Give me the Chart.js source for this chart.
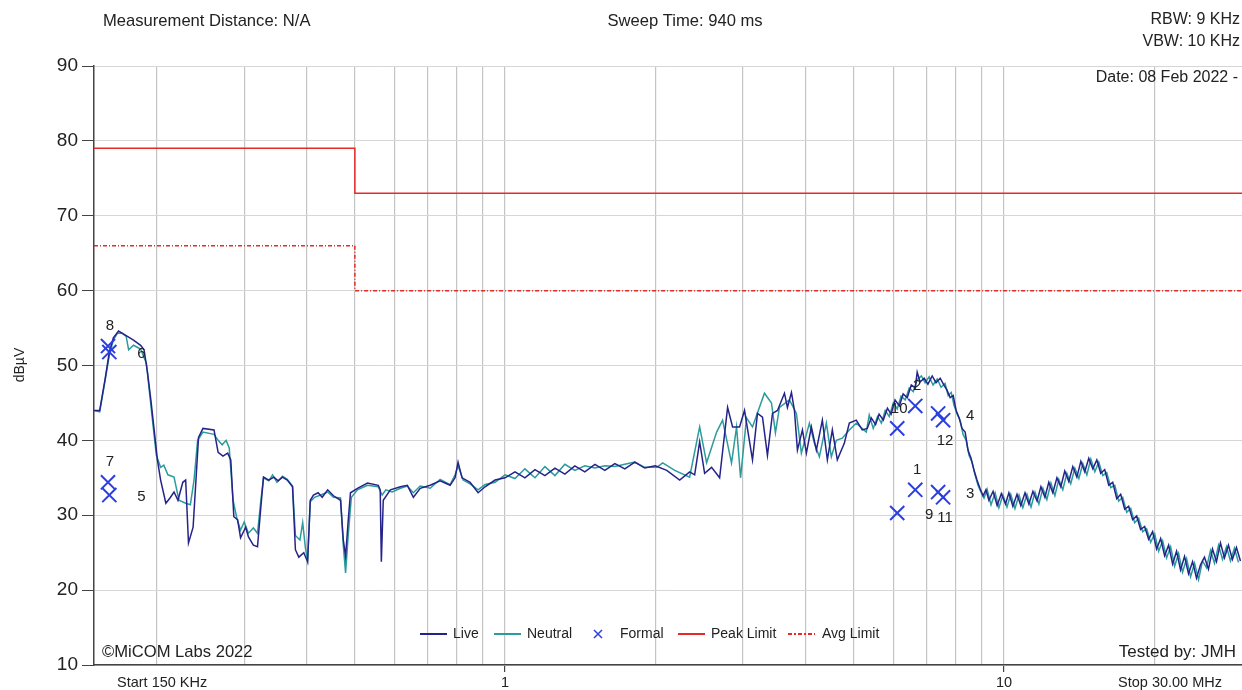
<!DOCTYPE html>
<html>
<head>
<meta charset="utf-8">
<script src="https://cdn.jsdelivr.net/npm/chart.js@4.4.1/dist/chart.umd.min.js"></script>
<style>
  html, body { margin: 0; padding: 0; background: #fff; }
  canvas { display: block; }
</style>
</head>
<body>
<canvas id="emiChart" width="1242" height="690"></canvas>
<script>
// Frequencies in MHz, levels in dBµV
const liveFreq = [0.150,0.154,0.158,0.161,0.164,0.168,0.171,0.176,0.180,0.186,0.189,0.192,0.195,0.198,0.201,0.204,0.209,0.213,0.217,0.221,
  0.226,0.229,0.232,0.237,0.243,0.248,0.261,0.266,0.272,0.278,0.282,0.286,0.291,0.295,0.302,0.306,0.313,0.319,0.324,0.328,
  0.336,0.344,0.351,0.358,0.366,0.375,0.380,0.386,0.395,0.402,0.407,0.413,0.422,0.430,0.441,0.453,0.468,0.474,0.479,0.485,
  0.490,0.506,0.530,0.557,0.562,0.565,0.570,0.589,0.617,0.637,0.655,0.676,
  0.708,0.741,0.776,0.794,0.805,0.820,0.851,0.883,0.912,0.955,
  1.000,1.047,1.096,1.148,1.202,1.259,1.318,1.380,1.445,1.514,1.585,1.660,1.738,1.820,1.905,2.000,
  2.109,2.239,2.344,2.399,2.455,2.512,2.594,2.692,2.793,2.858,2.951,3.020,3.133,3.206,3.281,3.357,3.436,3.516,3.631,3.681,
  3.750,3.802,3.855,3.945,4.018,4.111,4.207,4.325,4.426,4.529,4.634,4.786,4.898,5.058,5.200,5.321,
  5.42,5.53,5.62,5.73,5.84,5.94,6.05,6.17,6.28,6.40,6.52,6.64,6.70,6.79,6.92,7.04,7.18,7.31,7.45,7.59,
  7.69,7.80,7.91,8.02,8.13,8.24,8.36,8.47,8.59,8.71,8.83,8.95,9.08,9.20,9.33,9.51,9.69,9.88,10.07,10.23,
  10.42,10.62,10.81,11.02,11.22,11.43,11.65,11.86,12.08,12.30,12.53,12.77,13.00,13.24,13.49,13.74,14.00,14.26,14.52,14.79,
  15.07,15.35,15.63,15.92,16.22,16.52,16.83,17.14,17.46,17.78,18.11,18.45,18.79,19.14,19.50,19.86,20.23,20.61,20.99,21.38,
  21.78,22.18,22.59,23.01,23.44,23.88,24.32,24.77,25.23,25.70,26.18,26.67,27.16,27.67,28.18,28.70,29.24,29.79];
const liveLevel = [44.0,44.0,48.3,51.8,53.7,54.6,54.3,53.8,53.4,52.7,52.1,49.1,45.4,41.4,37.4,34.7,31.6,32.3,33.1,32.0,
  34.4,34.7,26.3,28.4,40.4,41.6,41.4,38.4,37.9,38.3,37.4,29.8,29.4,27.0,28.4,27.1,26.0,25.8,31.1,35.1,
  34.7,35.1,34.6,35.1,34.7,33.8,25.4,24.4,25.0,23.8,32.0,32.7,33.0,32.4,33.4,32.6,32.0,26.7,24.5,29.4,
  33.0,33.6,34.3,34.0,33.4,23.8,32.0,33.4,33.8,34.0,32.4,33.6,
  34.0,34.6,34.0,35.0,37.1,35.0,34.4,33.0,33.8,34.7,
  35.0,35.8,35.0,36.1,35.3,36.3,35.5,36.6,35.8,36.8,36.0,36.9,36.2,37.1,36.3,36.6,
  36.0,34.7,35.8,35.4,39.8,35.6,36.4,35.0,44.4,41.8,41.8,44.0,37.4,43.6,43.1,38.0,43.6,44.0,46.3,44.4,
  46.4,44.0,38.7,41.4,38.3,41.8,38.7,42.7,37.4,41.4,37.4,39.6,42.3,42.7,41.4,41.6,
  43.0,42.1,43.5,42.7,44.3,43.5,45.4,44.6,46.2,45.7,47.4,47.0,49.1,47.8,48.3,47.5,48.6,47.7,48.3,47.3,
  46.7,45.7,46.0,44.0,43.0,41.6,41.1,38.7,37.6,36.0,34.7,33.6,32.6,33.4,32.0,33.2,31.3,32.9,31.5,33.0,
  31.2,32.8,31.3,33.0,31.5,33.2,31.9,33.8,32.4,34.4,33.0,35.0,33.8,35.9,34.5,36.5,35.1,37.2,35.8,37.6,
  36.2,37.4,35.6,36.1,34.0,34.4,32.2,32.8,30.8,31.2,29.4,29.9,28.1,28.5,26.8,27.8,25.5,26.9,24.6,26.0,
  23.5,25.2,22.7,24.5,22.2,23.8,21.6,23.4,24.4,22.8,25.5,23.8,26.3,24.3,26.0,24.1,25.7,23.9];

const neutralFreq = [0.150,0.154,0.158,0.161,0.164,0.167,0.171,0.174,0.176,0.180,0.186,0.191,0.194,0.197,0.200,0.204,0.207,0.211,0.217,0.222,
  0.229,0.234,0.238,0.242,0.248,0.261,0.266,0.271,0.276,0.280,0.285,0.290,0.295,0.300,0.306,0.313,0.319,0.324,0.328,0.336,
  0.342,0.349,0.358,0.366,0.375,0.380,0.388,0.393,0.398,0.402,0.407,0.415,0.427,0.441,0.453,0.468,0.474,0.479,0.485,0.492,
  0.506,0.530,0.557,0.567,0.577,0.594,0.617,0.637,0.655,0.676,
  0.708,0.741,0.776,0.794,0.805,0.824,0.851,0.883,0.912,0.955,1.000,1.047,1.096,1.148,1.202,1.259,1.318,1.380,1.445,1.514,
  1.585,1.660,1.738,1.820,1.905,2.014,2.070,2.188,2.344,2.455,2.535,2.655,2.729,2.844,2.911,2.965,3.048,3.133,3.311,3.420,
  3.483,3.548,3.715,3.837,3.926,4.074,4.169,4.266,4.406,4.508,4.613,4.742,4.898,5.058,5.297,
  5.37,5.47,5.58,5.68,5.78,5.89,6.00,6.11,6.22,6.34,6.46,6.58,6.70,6.83,6.95,7.08,7.21,7.35,7.48,7.62,
  7.73,7.84,7.94,8.06,8.17,8.28,8.40,8.51,8.63,8.75,8.87,8.99,9.12,9.25,9.42,9.60,9.77,9.95,10.14,10.32,
  10.52,10.72,10.91,11.12,11.33,11.54,11.75,11.97,12.19,12.42,12.65,12.88,13.12,13.37,13.61,13.87,14.13,14.39,14.66,14.93,
  15.21,15.49,15.78,16.07,16.37,16.68,16.98,17.30,17.62,17.95,18.28,18.62,18.97,19.32,19.68,20.05,20.42,20.80,21.18,21.58,
  21.98,22.39,22.80,23.23,23.66,24.10,24.55,25.00,25.47,25.94,26.42,26.92,27.42,27.93,28.44,28.97,29.51];
const neutralLevel = [44.0,43.8,48.1,51.4,53.4,54.3,54.3,53.9,52.1,52.7,52.2,50.3,46.1,42.0,38.0,36.4,36.7,35.4,35.1,32.0,
  31.6,31.4,34.7,40.0,41.1,40.8,40.0,39.4,40.0,39.0,32.0,29.6,28.0,29.1,27.6,28.3,27.6,32.0,35.0,34.6,
  35.4,34.4,35.2,34.8,33.9,27.3,26.7,29.0,25.6,24.0,31.8,32.4,32.7,33.1,32.4,32.3,26.0,22.3,27.4,32.4,
  33.4,34.0,33.8,32.7,33.4,33.1,33.6,33.9,33.0,33.9,
  33.6,34.8,34.1,35.4,36.6,34.7,34.2,33.4,34.1,34.4,35.4,34.9,36.2,35.0,36.5,35.3,36.8,36.0,36.6,36.3,
  36.6,36.5,36.8,37.1,36.4,36.4,37.0,36.0,35.1,41.8,37.0,41.1,42.7,37.0,41.8,35.0,43.0,41.8,46.3,45.0,
  41.0,44.4,45.4,43.6,38.3,42.3,39.6,37.8,42.3,37.8,40.0,40.3,41.4,42.3,41.1,
  43.4,41.6,43.2,42.3,44.0,43.2,45.0,44.2,45.9,45.4,47.0,46.5,48.1,48.6,47.7,48.5,47.4,48.2,47.1,47.6,
  46.0,46.4,44.7,43.5,42.7,40.8,40.0,38.0,37.1,35.4,34.0,33.1,32.3,33.5,31.4,33.0,31.0,32.7,31.1,32.8,
  30.9,32.7,31.0,32.8,31.1,33.1,31.5,33.6,32.1,34.3,32.6,34.8,33.4,35.6,34.2,36.3,34.9,36.9,35.4,37.5,
  35.8,37.1,35.3,35.7,33.7,34.0,31.9,32.4,30.4,30.9,29.0,29.6,27.8,28.2,26.4,27.5,25.2,26.6,24.3,25.8,
  23.2,24.9,22.4,24.2,21.8,23.6,21.4,23.9,23.0,25.3,23.6,26.0,24.1,25.8,23.9,25.6,23.7];

const formalLabel = ['1','2','3','4','5','6','7','8','9','10','11','12'];
const formalFreq  = [6.64, 6.64, 7.38, 7.38, 0.161, 0.161, 0.160, 0.160, 6.11, 6.11, 7.55, 7.55];
const formalLevel = [33.4, 44.6, 33.1, 43.6, 32.7, 51.8, 34.4, 52.6, 30.3, 41.6, 32.4, 42.7];

const peakFreq  = [0.15, 0.5, 0.5, 30];
const peakLevel = [79, 79, 73, 73];
const avgFreq   = [0.15, 0.5, 0.5, 30];
const avgLevel  = [66, 66, 60, 60];

const yTicks = [10, 20, 30, 40, 50, 60, 70, 80, 90];
const xGridTicks = [0.2, 0.3, 0.4, 0.5, 0.6, 0.7, 0.8, 0.9, 1, 2, 3, 4, 5, 6, 7, 8, 9, 10, 20];
const xLabelTicks = [1, 10];

// where each marker number sits relative to its cross
const labelSide = ['above','above','right','right','right','right','above','above','right','above','below','below'];

const FONT = '"Liberation Sans", Arial, sans-serif';
const LIVE = '#25238a';
const NEUTRAL = '#2b9b9b';
const FORMAL = '#2b3fe0';
const LIMIT = '#e52b25';

const pts = (xs, ys) => xs.map((x, i) => ({ x, y: ys[i] }));

const overlay = {
  id: 'overlay',
  afterDraw(chart) {
    const ctx = chart.ctx;
    const sx = chart.scales.x, sy = chart.scales.y;
    ctx.save();
    ctx.fillStyle = '#222';
    ctx.textBaseline = 'middle';

    ctx.font = '16.6px ' + FONT;
    ctx.textAlign = 'left';
    ctx.fillText('Measurement Distance: N/A', 103, 21);
    ctx.fillText('\u00A9MiCOM Labs 2022', 102, 652);
    ctx.textAlign = 'center';
    ctx.fillText('Sweep Time: 940 ms', 685, 21);
    ctx.textAlign = 'right';
    ctx.font = '16px ' + FONT;
    ctx.fillText('RBW: 9 KHz', 1240, 20);
    ctx.fillText('VBW: 10 KHz', 1240, 42);
    ctx.fillText('Date: 08 Feb 2022 -', 1238, 78);
    ctx.font = '17px ' + FONT;
    ctx.fillText('Tested by: JMH', 1236, 652);

    ctx.font = '14.5px ' + FONT;
    ctx.textAlign = 'left';
    ctx.fillText('Start 150 KHz', 117, 683);
    ctx.textAlign = 'right';
    ctx.fillText('Stop 30.00 MHz', 1222, 683);

    // y axis title
    ctx.save();
    ctx.translate(20, 365);
    ctx.rotate(-Math.PI / 2);
    ctx.textAlign = 'center';
    ctx.font = '14px ' + FONT;
    ctx.fillText('dB\u00B5V', 0, 0);
    ctx.restore();

    // marker numbers
    ctx.font = '15px ' + FONT;
    ctx.textAlign = 'center';
    formalLabel.forEach((lab, i) => {
      const px = sx.getPixelForValue(formalFreq[i]);
      const py = sy.getPixelForValue(formalLevel[i]);
      let dx = 2, dy = -20;
      if (labelSide[i] === 'right') { dx = 32; dy = 2; }
      if (labelSide[i] === 'below') { dx = 2; dy = 21; }
      ctx.fillText(lab, px + dx, py + dy);
    });

    // legend
    const ly = 634;
    ctx.font = '14px ' + FONT;
    ctx.textAlign = 'left';
    const seg = (x0, color, dash) => {
      ctx.save();
      ctx.strokeStyle = color;
      ctx.lineWidth = 2;
      ctx.setLineDash(dash || []);
      ctx.beginPath();
      ctx.moveTo(x0, ly);
      ctx.lineTo(x0 + 27, ly);
      ctx.stroke();
      ctx.restore();
    };
    seg(420, LIVE);
    ctx.fillText('Live', 453, ly);
    seg(494, NEUTRAL);
    ctx.fillText('Neutral', 527, ly);
    ctx.save();
    ctx.strokeStyle = FORMAL;
    ctx.lineWidth = 1.5;
    ctx.beginPath();
    ctx.moveTo(594, ly - 4); ctx.lineTo(602, ly + 4);
    ctx.moveTo(602, ly - 4); ctx.lineTo(594, ly + 4);
    ctx.stroke();
    ctx.restore();
    ctx.fillText('Formal', 620, ly);
    seg(678, LIMIT);
    ctx.fillText('Peak Limit', 711, ly);
    seg(788, LIMIT, [4, 2, 2, 2]);
    ctx.fillText('Avg Limit', 822, ly);

    ctx.restore();
  }
};

new Chart(document.getElementById('emiChart'), {
  type: 'line',
  data: {
    datasets: [
      { label: 'Formal', data: pts(formalFreq, formalLevel), showLine: false,
        pointStyle: 'crossRot', pointRadius: 10, borderColor: FORMAL, borderWidth: 2, order: 0 },
      { label: 'Live', data: pts(liveFreq, liveLevel), borderColor: LIVE, borderWidth: 1.5,
        pointRadius: 0, tension: 0, order: 1 },
      { label: 'Neutral', data: pts(neutralFreq, neutralLevel), borderColor: NEUTRAL, borderWidth: 1.5,
        pointRadius: 0, tension: 0, order: 2 },
      { label: 'Peak Limit', data: pts(peakFreq, peakLevel), borderColor: LIMIT, borderWidth: 1.5,
        pointRadius: 0, order: 3 },
      { label: 'Avg Limit', data: pts(avgFreq, avgLevel), borderColor: LIMIT, borderWidth: 1.5,
        borderDash: [4, 2, 1, 2], pointRadius: 0, order: 3 }
    ]
  },
  options: {
    responsive: false,
    animation: false,
    layout: { autoPadding: false, padding: { top: 66, right: 0, bottom: 0, left: 0 } },
    plugins: { legend: { display: false }, tooltip: { enabled: false } },
    scales: {
      x: {
        type: 'logarithmic',
        min: 0.15,
        max: 30,
        afterBuildTicks: s => { s.ticks = xGridTicks.map(v => ({ value: v })); },
        afterFit: s => { s.height = 25; s.paddingLeft = 0; s.paddingRight = 0; },
        ticks: {
          autoSkip: false, maxRotation: 0, color: '#222', padding: 2,
          font: { family: FONT, size: 14.5 },
          callback: v => xLabelTicks.includes(v) ? String(v) : ''
        },
        grid: {
          color: '#c4c4c4', lineWidth: 1.2, tickLength: 7,
          tickColor: c => (c.tick && xLabelTicks.includes(c.tick.value)) ? '#444' : 'rgba(0,0,0,0)'
        },
        border: { color: '#444', width: 1.5 }
      },
      y: {
        min: 10,
        max: 90,
        afterBuildTicks: s => { s.ticks = yTicks.map(v => ({ value: v })); },
        afterFit: s => { s.width = 94; },
        ticks: { color: '#222', padding: 4, font: { family: FONT, size: 19 } },
        grid: { color: '#d6d6d6', lineWidth: 1, tickLength: 12, tickColor: '#444' },
        border: { color: '#444', width: 1.5 }
      }
    }
  },
  plugins: [overlay]
});
</script>
</body>
</html>
